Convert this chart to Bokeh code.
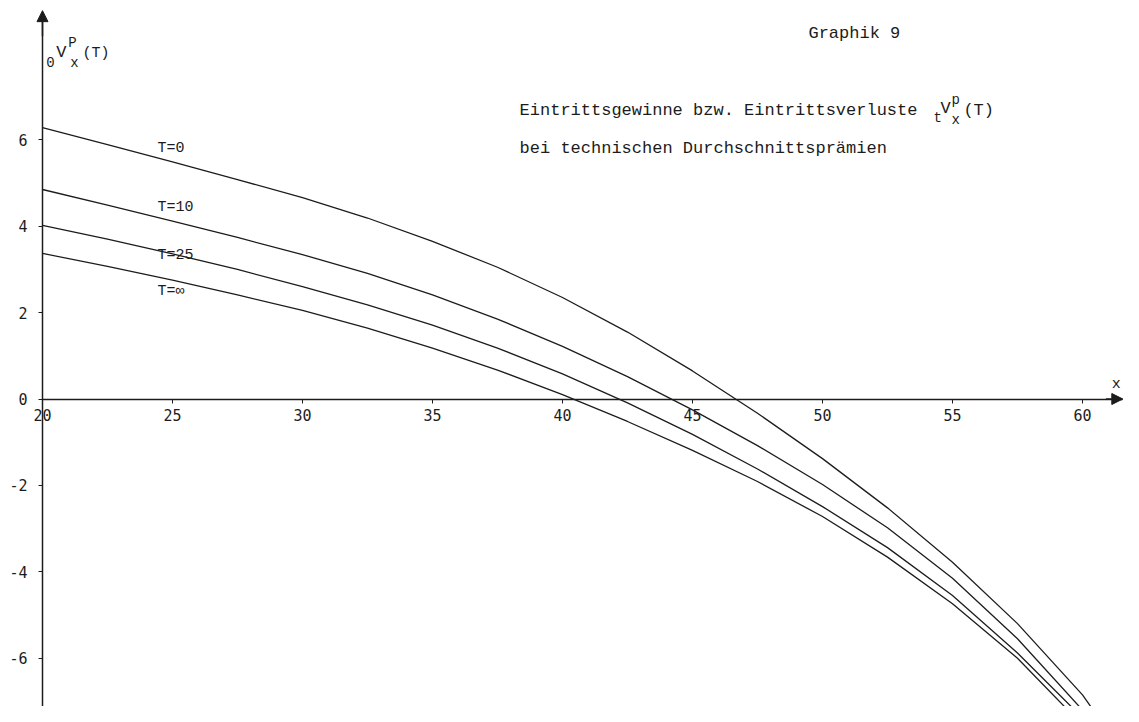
from bokeh.plotting import figure
from bokeh.models import LinearAxis, FixedTicker, Range1d, Label, Arrow, NormalHead
from bokeh.embed import file_html
from bokeh.resources import INLINE

# ---- data ----
ages = [20, 22.5, 25, 27.5, 30, 32.5, 35, 37.5, 40, 42.5, 45, 47.5, 50, 52.5, 55, 57.5, 60, 62]
v_T0 = [6.28, 5.89, 5.49, 5.08, 4.66, 4.19, 3.65, 3.05, 2.35, 1.55, 0.65, -0.33, -1.38, -2.52, -3.78, -5.20, -6.85, -8.55]
v_T10 = [4.85, 4.49, 4.12, 3.74, 3.34, 2.91, 2.41, 1.85, 1.22, 0.52, -0.25, -1.08, -1.98, -2.98, -4.15, -5.55, -7.20, -8.60]
v_T25 = [4.02, 3.70, 3.36, 3.00, 2.60, 2.18, 1.71, 1.18, 0.58, -0.09, -0.82, -1.62, -2.49, -3.44, -4.55, -5.88, -7.38, -8.80]
v_Tinf = [3.37, 3.07, 2.75, 2.41, 2.05, 1.64, 1.18, 0.67, 0.10, -0.52, -1.19, -1.91, -2.72, -3.66, -4.74, -6.00, -7.55, -8.90]
series = [v_T0, v_T10, v_T25, v_Tinf]
curve_names = ["T=0", "T=10", "T=25", "T=\u221e"]
x_ticks = [20, 25, 30, 35, 40, 45, 50, 55, 60]
y_ticks = [-6, -4, -2, 0, 2, 4, 6]

title_text = "Graphik 9"
line1_text = "Eintrittsgewinne bzw. Eintrittsverluste"
line2_text = "bei technischen Durchschnittsprämien"

MONO = "Liberation Mono"
INK = "#1c1c1c"

p = figure(width=1123, height=706,
           x_range=Range1d(18.385, 61.577), y_range=Range1d(-7.118, 9.225),
           x_axis_type=None, y_axis_type=None,
           toolbar_location=None, output_backend="svg",
           min_border=0, outline_line_color=None,
           background_fill_color="white", border_fill_color="white")

xaxis = LinearAxis(fixed_location=0, ticker=FixedTicker(ticks=x_ticks),
                   bounds=(20, 61.55),
                   major_tick_in=0, major_tick_out=4,
                   minor_tick_line_color=None,
                   major_label_standoff=6,
                   major_label_text_font="DejaVu Sans Mono",
                   major_label_text_font_size="15px",
                   major_label_text_color=INK,
                   axis_line_width=1.5, axis_line_color=INK,
                   major_tick_line_color=INK)
p.add_layout(xaxis, "below")

yaxis = LinearAxis(fixed_location=20, ticker=FixedTicker(ticks=y_ticks),
                   bounds=(-7.118, 8.95),
                   major_tick_in=0, major_tick_out=4,
                   minor_tick_line_color=None,
                   major_label_standoff=11,
                   major_label_text_font="DejaVu Sans Mono",
                   major_label_text_font_size="15px",
                   major_label_text_color=INK,
                   major_label_overrides={t: str(t) for t in y_ticks},
                   axis_line_width=1.5, axis_line_color=INK,
                   major_tick_line_color=INK)
p.add_layout(yaxis, "left")

# axis arrows
p.add_layout(Arrow(end=NormalHead(size=11, fill_color=INK, line_color=INK),
                   x_start=20, y_start=8.4, x_end=20, y_end=8.99,
                   line_color=INK, line_width=1.5))
p.add_layout(Arrow(end=NormalHead(size=11, fill_color=INK, line_color=INK),
                   x_start=60.9, y_start=0, x_end=61.55, y_end=0,
                   line_color=INK, line_width=1.5))

for vals in series:
    p.line(ages, vals, line_color=INK, line_width=1.3)

# curve labels
label_y = [5.80, 4.43, 3.32, 2.49]
for name, ly in zip(curve_names, label_y):
    p.add_layout(Label(x=24.42, y=ly, text=name, text_font=MONO,
                       text_font_size="15px", text_color=INK,
                       text_baseline="middle", text_align="left"))

def lab(x, y, t, size="17px", align="left"):
    p.add_layout(Label(x=x, y=y, text=t, text_font=MONO, text_font_size=size,
                       text_color=INK, text_baseline="middle", text_align=align))

# title block
lab(49.46, 8.46, title_text)
lab(38.35, 6.68, line1_text)
lab(54.27, 6.50, "t", "14px")        # left subscript
lab(54.73, 6.72, "V", "17px", "center")
lab(55.12, 6.93, "p", "14px", "center")
lab(55.12, 6.47, "x", "14px", "center")
lab(55.42, 6.68, "(T)", "17px")
lab(38.35, 5.80, line2_text)

# y-axis label  0V^P_x(T)
lab(20.31, 7.79, "0", "14px", "center")
lab(20.73, 8.02, "V", "17px", "center")
lab(21.15, 8.25, "P", "14px", "center")
lab(21.23, 7.77, "x", "14px", "center")
lab(21.54, 8.00, "(T)", "15px")

# x-axis label
lab(61.30, 0.33, "x", "15px", "center")

open("out.html", "w").write(file_html(p, INLINE))
